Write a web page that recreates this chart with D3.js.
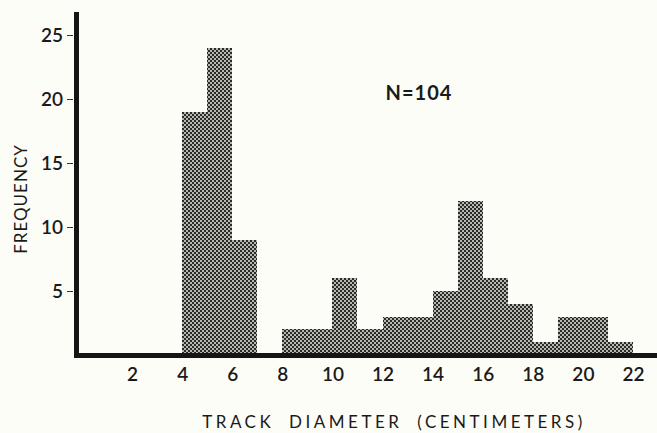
<!DOCTYPE html>
<html>
<head>
<meta charset="utf-8">
<script src="https://cdn.jsdelivr.net/npm/d3@7"></script>
<style>
  body { margin: 0; background: #fdfdf7; }
  svg { display: block; }
  text { font-family: Lato, "DejaVu Sans", sans-serif; fill: #1a1a1a; }
</style>
</head>
<body>
<div class="container"></div>
<script>
const width = 657;
const height = 433;

// histogram bins (lower edge, cm) and counts
const binStart = [4, 5, 6, 7, 8, 9, 10, 11, 12, 13, 14, 15, 16, 17, 18, 19, 20, 21]
const counts = [19, 24, 9, 0, 2, 2, 6, 2, 3, 3, 5, 12, 6, 4, 1, 3, 3, 1]
const xTicks = [2, 4, 6, 8, 10, 12, 14, 16, 18, 20, 22]
const yTicks = [5, 10, 15, 20, 25]

const svg = d3.select('.container')
    .append('svg')
    .attr('width', width)
    .attr('height', height)

// dotted screen fill for the bars
const pat = svg.append('defs')
    .append('pattern')
    .attr('id', 'screen')
    .attr('width', 4)
    .attr('height', 4)
    .attr('patternUnits', 'userSpaceOnUse')
pat.append('rect').attr('width', 4).attr('height', 4).attr('fill', '#2a2a2a')
pat.append('circle').attr('cx', 1).attr('cy', 1).attr('r', 0.95).attr('fill', '#f4f2e8')
pat.append('circle').attr('cx', 3).attr('cy', 3).attr('r', 0.95).attr('fill', '#f4f2e8')

const scaleX = d3.scaleLinear()
    .domain([-0.24, 22.96])
    .range([76, 657])

const scaleY = d3.scaleLinear()
    .domain([0, 25])
    .range([355, 35])

svg.selectAll('rect.bar')
    .data(counts)
    .enter()
    .append('rect')
    .attr('class', 'bar')
    .attr('x', (d, i) => Math.round(scaleX(binStart[i])))
    .attr('y', d => Math.round(scaleY(d)))
    .attr('width', (d, i) => Math.round(scaleX(binStart[i] + 1)) - Math.round(scaleX(binStart[i])))
    .attr('height', d => Math.round(scaleY(0)) - Math.round(scaleY(d)))
    .attr('fill', 'url(#screen)')
    .attr('shape-rendering', 'crispEdges')

// y axis
const yAxis = d3.axisLeft(scaleY)
    .tickValues(yTicks)
    .tickSize(6)
    .tickPadding(4)

const gy = svg.append('g')
    .attr('transform', 'translate(73, 0)')
    .call(yAxis)
gy.select('.domain').remove()
gy.selectAll('.tick line').attr('stroke', '#333').attr('stroke-width', 1)
gy.selectAll('.tick text')
    .style('font-size', '19px')
    .style('font-weight', 600)

// x axis (labels only)
const xAxis = d3.axisBottom(scaleX)
    .tickValues(xTicks)
    .tickSize(0)
    .tickPadding(10)

const gx = svg.append('g')
    .attr('transform', 'translate(0, 358)')
    .call(xAxis)
gx.select('.domain').remove()
gx.selectAll('.tick text')
    .style('font-size', '19px')
    .style('font-weight', 600)

// heavy axis lines
svg.append('line')
    .attr('x1', 76.5).attr('x2', 76.5)
    .attr('y1', 12).attr('y2', 358)
    .attr('stroke', '#151515')
    .attr('stroke-width', 5)

svg.append('line')
    .attr('x1', 74).attr('x2', 657)
    .attr('y1', 355.5).attr('y2', 355.5)
    .attr('stroke', '#151515')
    .attr('stroke-width', 5)

svg.append('text')
    .attr('x', 419)
    .attr('y', 100)
    .attr('text-anchor', 'middle')
    .style('font-size', '20px')
    .style('font-weight', 700)
    .style('letter-spacing', '1px')
    .text('N=104')

svg.append('text')
    .attr('transform', 'rotate(-90)')
    .attr('x', -199)
    .attr('y', 27)
    .attr('text-anchor', 'middle')
    .style('font-size', '17px')
    .style('letter-spacing', '1px')
    .text('FREQUENCY')

svg.append('text')
    .attr('x', 394)
    .attr('y', 428)
    .attr('text-anchor', 'middle')
    .style('font-size', '17px')
    .style('letter-spacing', '3.5px')
    .style('word-spacing', '7px')
    .text('TRACK DIAMETER  (CENTIMETERS)')
</script>
</body>
</html>
